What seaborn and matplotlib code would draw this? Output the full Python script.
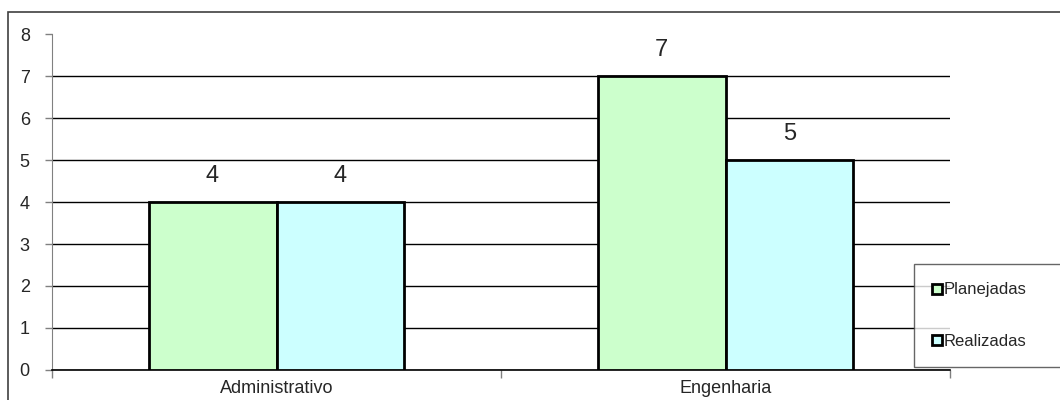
import matplotlib
matplotlib.use("Agg")
import matplotlib.pyplot as plt
import seaborn as sns
import pandas as pd
from matplotlib.lines import Line2D
from matplotlib.patches import Rectangle

setores = ["Administrativo", "Engenharia"]
planejadas = [4, 7]
realizadas = [4, 5]
series = ["Planejadas", "Realizadas"]
cores = ["#CCFFCC", "#CCFFFF"]
yticks = [0, 1, 2, 3, 4, 5, 6, 7, 8]

df = pd.DataFrame({
    "setor": setores * 2,
    "serie": [series[0]] * 2 + [series[1]] * 2,
    "valor": planejadas + realizadas,
})

sns.set_style("white")
plt.rcParams["font.family"] = ["Liberation Sans", "DejaVu Sans"]

fig = plt.figure(figsize=(10.6, 4), dpi=100)
ax = fig.add_axes([52 / 1060, 30 / 400, 898 / 1060, 336 / 400])

# moldura externa
fig.patches.append(Rectangle((8 / 1060, -0.1), 1.2, 1.1 - 12 / 400,
                             transform=fig.transFigure, fill=False,
                             edgecolor="#404040", linewidth=1.2))

sns.barplot(data=df, x="setor", y="valor", hue="serie", palette=cores,
            saturation=1, width=0.57, edgecolor="black", linewidth=2, ax=ax,
            legend=False, zorder=3)

for cont in ax.containers:
    ax.bar_label(cont, padding=11, fontsize=17)

ax.set_ylim(0, 8)
ax.set_xlim(-0.5, 1.5)
ax.set_yticks(yticks)
ax.set_xlabel("")
ax.set_ylabel("")
ax.yaxis.grid(True, color="black", linewidth=1)
ax.set_axisbelow(True)
ax.get_ygridlines()[-1].set_visible(False)

for s in ["top", "right"]:
    ax.spines[s].set_visible(False)
ax.spines["left"].set_color("#808080")
ax.spines["bottom"].set_color("black")
ax.spines["bottom"].set_linewidth(1.2)

ax.tick_params(axis="y", left=True, length=5, width=1, color="#808080",
               pad=11, labelsize=13)
ax.tick_params(axis="x", bottom=False, pad=4, labelsize=13)
ax.set_xticks([-0.5, 0.5, 1.5], minor=True)
ax.tick_params(axis="x", which="minor", bottom=True, length=6, width=1,
               color="#808080", direction="out")

handles = [Line2D([], [], marker="s", linestyle="none", markersize=7,
                  markerfacecolor=c, markeredgecolor="black",
                  markeredgewidth=2) for c in cores]
leg = fig.legend(handles, series, loc="upper left",
                 bbox_to_anchor=(914 / 1060, 1 - 264 / 400, 0.2, 0.0),
                 mode="expand",
                 fontsize=12, frameon=True, fancybox=False,
                 edgecolor="#404040", handlelength=0.6, handletextpad=0.1,
                 labelspacing=2.2, borderpad=1.1, borderaxespad=0)
leg.get_frame().set_linewidth(1)

fig.savefig("out.png", dpi=100)
